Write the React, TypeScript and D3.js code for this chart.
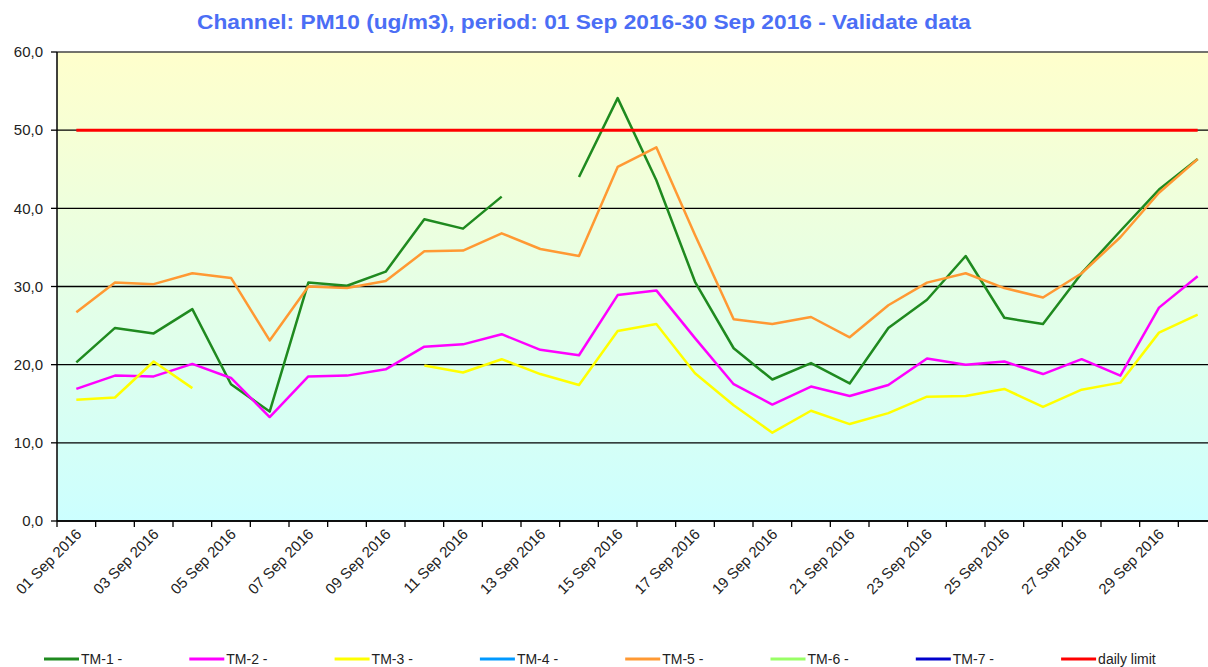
import React from "react";
import * as d3 from "d3";

const days = d3.range(1, 31).map((d) => `${d < 10 ? "0" + d : d} Sep 2016`);

const tm1 = [20.3, 24.7, 24.0, 27.1, 17.5, 14.0, 30.5, 30.1, 31.9, 38.6, 37.4, 41.5, null, 44.0, 54.1, 43.6, 30.6, 22.1, 18.1, 20.2, 17.6, 24.7, 28.3, 33.9, 26.0, 25.2, 31.7, 37.1, 42.4, 46.3];
const tm2 = [16.9, 18.6, 18.5, 20.1, 18.3, 13.3, 18.5, 18.6, 19.4, 22.3, 22.6, 23.9, 21.9, 21.2, 28.9, 29.5, 23.4, 17.5, 14.9, 17.2, 16.0, 17.4, 20.8, 20.0, 20.4, 18.8, 20.7, 18.6, 27.3, 31.3];
const tm3 = [15.5, 15.8, 20.4, 17.0, null, null, null, null, null, 19.9, 19.0, 20.7, 18.8, 17.4, 24.3, 25.2, 18.9, 14.8, 11.3, 14.1, 12.4, 13.8, 15.9, 16.0, 16.9, 14.6, 16.8, 17.7, 24.1, 26.4];
const tm4: (number | null)[] = days.map(() => null);
const tm5 = [26.7, 30.5, 30.3, 31.7, 31.1, 23.1, 30.0, 29.8, 30.7, 34.5, 34.6, 36.8, 34.8, 33.9, 45.3, 47.8, 36.6, 25.8, 25.2, 26.1, 23.5, 27.6, 30.5, 31.7, 29.8, 28.6, 31.7, 36.3, 42.0, 46.3];
const tm6: (number | null)[] = days.map(() => null);
const tm7: (number | null)[] = days.map(() => null);
const limit = days.map(() => 50);

const yTicks = [0, 10, 20, 30, 40, 50, 60];

const series = [
  { name: "TM-1 -", color: "#1f8a1f", values: tm1 },
  { name: "TM-2 -", color: "#ff00ff", values: tm2 },
  { name: "TM-3 -", color: "#ffff00", values: tm3 },
  { name: "TM-4 -", color: "#0099ff", values: tm4 },
  { name: "TM-5 -", color: "#ff9933", values: tm5 },
  { name: "TM-6 -", color: "#99ff66", values: tm6 },
  { name: "TM-7 -", color: "#0000cc", values: tm7 },
  { name: "daily limit", color: "#ff0000", values: limit },
];

const W = 1208;
const H = 667;
const left = 57;
const top = 52;
const bottom = 521;
const right = 1217;

const App = () => {
  const x = d3.scaleBand<string>().domain(days).range([left, right]);
  const y = d3.scaleLinear().domain([0, 60]).range([bottom, top]);
  const cx = (d: string) => (x(d) as number) + x.bandwidth() / 2;

  const line = d3
    .line<number | null>()
    .defined((d) => d !== null)
    .x((_, i) => cx(days[i]))
    .y((d) => y(d as number));

  const font = "'Liberation Sans', Arial, sans-serif";

  return (
    <svg width={W} height={H} style={{ position: "absolute", left: 0, top: 0 }}>
      <defs>
        <linearGradient id="bg" x1="0" y1="0" x2="0" y2="1">
          <stop offset="0%" stopColor="#ffffcc" />
          <stop offset="100%" stopColor="#ccffff" />
        </linearGradient>
      </defs>
      <text
        x={584}
        y={29}
        textAnchor="middle"
        fontFamily={font}
        fontWeight="bold"
        fontSize={21}
        fill="#4b6ef5"
        textLength={774}
        lengthAdjust="spacingAndGlyphs"
      >
        Channel: PM10 (ug/m3), period: 01 Sep 2016-30 Sep 2016 - Validate data
      </text>

      <rect x={left} y={top} width={right - left} height={bottom - top} fill="url(#bg)" />

      {yTicks.map((t) => (
        <g key={t}>
          <line x1={left} x2={right} y1={y(t)} y2={y(t)} stroke={t === 60 ? "#444" : "#000"} strokeWidth={1.3} />
          <line x1={left - 6} x2={left} y1={y(t)} y2={y(t)} stroke="#000" strokeWidth={1.3} />
          <text x={43} y={y(t)} dy="0.35em" textAnchor="end" fontFamily={font} fontSize={15} fill="#222">
            {d3.format(".1f")(t).replace(".", ",")}
          </text>
        </g>
      ))}
      <line x1={left} x2={left} y1={top} y2={bottom} stroke="#000" strokeWidth={1.5} />
      <line x1={left} x2={right} y1={bottom} y2={bottom} stroke="#000" strokeWidth={1.5} />

      {d3.range(0, days.length + 1).map((k) => {
        const xx = left + k * x.bandwidth();
        return <line key={k} x1={xx} x2={xx} y1={bottom} y2={bottom + 6} stroke="#000" strokeWidth={1.3} />;
      })}

      {days
        .filter((_, i) => i % 2 === 0)
        .map((d) => (
          <text
            key={d}
            transform={`translate(${cx(d) + 6},${bottom + 14}) rotate(-45)`}
            textAnchor="end"
            fontFamily={font}
            fontSize={15}
            fill="#222"
          >
            {d}
          </text>
        ))}

      {series.map((s) => (
        <path
          key={s.name}
          d={line(s.values) || ""}
          fill="none"
          stroke={s.color}
          strokeWidth={s.name === "daily limit" ? 3 : 2.5}
          strokeLinejoin="round"
        />
      ))}

      {series.map((s, i) => {
        const lx = 44 + i * 145.3;
        return (
          <g key={s.name}>
            <line x1={lx} x2={lx + 35} y1={659} y2={659} stroke={s.color} strokeWidth={3} />
            <text x={lx + 37} y={664} fontFamily={font} fontSize={14} fill="#222">
              {s.name}
            </text>
          </g>
        );
      })}
    </svg>
  );
};

export default App;
